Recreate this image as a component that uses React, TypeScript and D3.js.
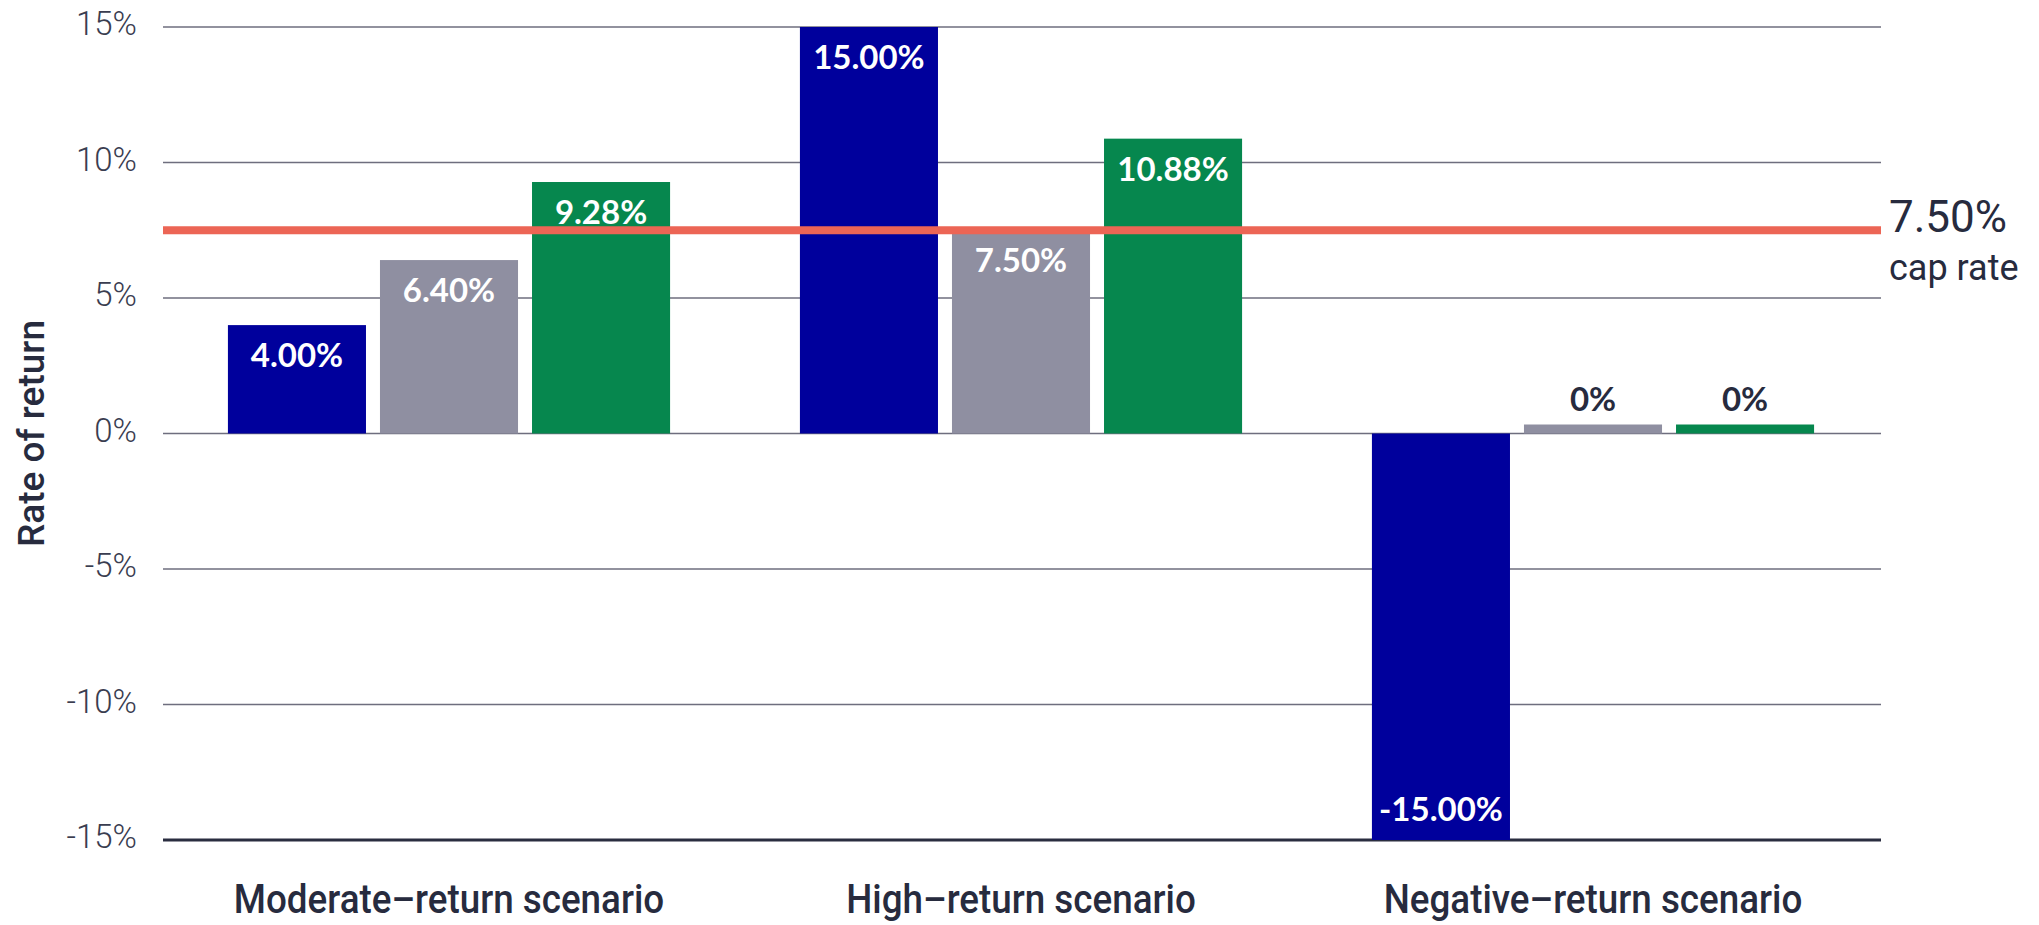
import * as d3 from 'd3';

const scenarios = ['Moderate\u2013return scenario', 'High\u2013return scenario', 'Negative\u2013return scenario'];
const seriesKeys = ['index', 'capped', 'floored'];
const indexReturn = [4.0, 15.0, -15.0];
const cappedReturn = [6.4, 7.5, 0];
const flooredReturn = [9.28, 10.88, 0];
const yTicks = [-15, -10, -5, 0, 5, 10, 15];
const capRate = 7.5;

const colors: Record<string, string> = { index: '#00009c', capped: '#8f8fa1', floored: '#06874e' };
const ink = '#272b3e';

export default function App() {
  const width = 2039;
  const height = 925;
  const margin = { top: 27, right: 160, bottom: 85, left: 163 };

  const x0 = d3.scaleBand<string>()
    .domain(scenarios)
    .range([margin.left, width - margin.right])
    .paddingInner(0.227)
    .paddingOuter(0.1135);

  const x1 = d3.scaleBand<string>()
    .domain(seriesKeys)
    .range([0, x0.bandwidth()])
    .paddingInner(0.092);

  const y = d3.scaleLinear().domain([-15, 15]).range([height - margin.bottom, margin.top]);

  const series: Record<string, number[]> = { index: indexReturn, capped: cappedReturn, floored: flooredReturn };
  const bars = scenarios.flatMap((s, i) => seriesKeys.map(k => ({ s, k, v: series[k][i] })));

  const fmt = (v: number) => (v === 0 ? '0%' : `${v.toFixed(2)}%`);
  const zeroH = 9;

  return (
    <svg width={width} height={height} style={{ position: 'absolute', left: 0, top: 0, background: '#fff' }}>
      {/* grid + y ticks */}
      {yTicks.map(t => (
        <g key={t}>
          <line
            x1={margin.left} x2={width - margin.right + 2}
            y1={y(t)} y2={y(t)}
            stroke={t === -15 ? '#2a2d40' : '#6e6e7e'}
            strokeWidth={t === -15 ? 3 : 1.6}
          />
          <text x={137} y={y(t)} dy={8} textAnchor="end" fontFamily="Roboto" fontWeight={300}
            fontSize={33} fill="#3a3d50">{`${t}%`}</text>
        </g>
      ))}

      {/* bars */}
      {bars.map(b => {
        const bx = x0(b.s)! + x1(b.k)!;
        const top = b.v === 0 ? y(0) - zeroH : y(Math.max(0, b.v));
        const h = b.v === 0 ? zeroH : Math.abs(y(b.v) - y(0));
        return <rect key={b.s + b.k} x={bx} y={top} width={x1.bandwidth()} height={h} fill={colors[b.k]} />;
      })}

      {/* cap rate line */}
      <line x1={margin.left} x2={width - margin.right + 2} y1={y(capRate)} y2={y(capRate)}
        stroke="#ec6555" strokeWidth={8} />
      <text x={1889} y={232} fontFamily="Roboto" fontSize={44} fill={ink}>{fmt(capRate)}</text>
      <text x={1889} y={280} fontFamily="Roboto" fontSize={36} fill={ink}>cap rate</text>

      {/* bar labels */}
      {bars.map(b => {
        const cx = x0(b.s)! + x1(b.k)! + x1.bandwidth() / 2;
        let ty: number;
        let fill = '#fff';
        if (b.v > 0) ty = y(b.v) + 42;
        else if (b.v < 0) { ty = y(b.v) - 19; }
        else { ty = y(0) - zeroH - 14; fill = ink; }
        return (
          <text key={'l' + b.s + b.k} x={cx} y={ty} textAnchor="middle" fontFamily="Lato"
            fontWeight={700} fontSize={33} fill={fill}>{fmt(b.v)}</text>
        );
      })}

      {/* y title */}
      <text transform={`translate(44,${y(0)}) rotate(-90)`} textAnchor="middle" fontFamily="Roboto"
        fontWeight={500} fontSize={37} fill={ink}>Rate of return</text>

      {/* category labels */}
      {scenarios.map(s => (
        <text key={s} transform={`translate(${x0(s)! + x0.bandwidth() / 2},913) scale(0.92,1)`}
          textAnchor="middle" fontFamily="Roboto" fontWeight={500}
          fontSize={40} fill={ink}>{s}</text>
      ))}
    </svg>
  );
}
